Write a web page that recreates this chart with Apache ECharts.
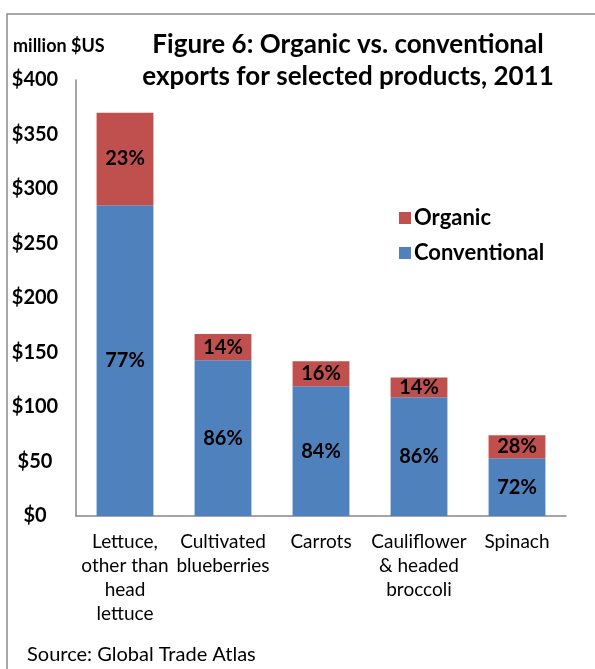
<!DOCTYPE html>
<html><head><meta charset="utf-8">
<script src="https://cdn.jsdelivr.net/npm/echarts@6/dist/echarts.min.js"></script>
<style>html,body{margin:0;padding:0;background:#fff}#c{width:595px;height:669px}</style>
</head><body><div id="c"></div>
<script>
const categories = ['Lettuce,\nother than\nhead\nlettuce', 'Cultivated\nblueberries', 'Carrots', 'Cauliflower\n& headed\nbroccoli', 'Spinach'];
const conventional = [285, 143, 119, 109, 53];
const organic = [85, 24, 23, 18, 21];
const yTicks = [0, 50, 100, 150, 200, 250, 300, 350, 400];

const FONT = 'Lato, "Open Sans", sans-serif';
const totals = conventional.map((v, i) => v + organic[i]);
const pct = (arr) => (p) => Math.round(arr[p.dataIndex] / totals[p.dataIndex] * 100) + '%';

const chart = echarts.init(document.getElementById('c'), null, {renderer: 'canvas'});
chart.setOption({
  animation: false,
  backgroundColor: '#fff',
  graphic: [
    {type: 'rect', shape: {x: 7, y: 14, width: 640, height: 700}, style: {fill: 'none', stroke: '#8c8c8c', lineWidth: 1.5}, silent: true},
    {type: 'text', left: 13, top: 37, style: {text: 'million $US', font: 'bold 18px ' + FONT, fill: '#000'}},
    {type: 'text', left: 27, top: 645, style: {text: 'Source: Global Trade Atlas', font: '20px ' + FONT, fill: '#000'}}
  ],
  title: {
    text: 'Figure 6: Organic vs. conventional\nexports for selected products, 2011',
    left: 343, top: 24, textAlign: 'center',
    textStyle: {fontFamily: FONT, fontWeight: 'bold', fontSize: 26, lineHeight: 32, color: '#000'}
  },
  legend: {
    orient: 'vertical', left: 394, top: 202, itemGap: 13,
    itemWidth: 12, itemHeight: 12, icon: 'rect',
    data: ['Organic', 'Conventional'],
    textStyle: {fontFamily: FONT, fontWeight: 'bold', fontSize: 22, lineHeight: 22, color: '#000', padding: [0, 0, 0, -2]}
  },
  grid: {left: 76, right: 29, top: 80, bottom: 153, containLabel: false},
  xAxis: {
    type: 'category', data: categories,
    axisLine: {lineStyle: {color: '#868686', width: 1.5}},
    axisTick: {show: false},
    axisLabel: {interval: 0, fontFamily: FONT, fontSize: 19, lineHeight: 24, color: '#000', margin: 14}
  },
  yAxis: {
    type: 'value', min: yTicks[0], max: yTicks[yTicks.length - 1], interval: 50,
    splitLine: {show: false},
    axisLine: {show: true, lineStyle: {color: '#868686', width: 1.5}},
    axisTick: {show: false},
    axisLabel: {fontFamily: FONT, fontWeight: 'bold', fontSize: 20, color: '#000', margin: 41, align: 'center', formatter: v => '$' + v}
  },
  series: [
    {name: 'Conventional', type: 'bar', stack: 't', data: conventional, barWidth: '58%',
     itemStyle: {color: '#4F81BD'},
     label: {show: true, position: 'inside', formatter: pct(conventional), fontFamily: FONT, fontWeight: 'bold', fontSize: 20, color: '#000'}},
    {name: 'Organic', type: 'bar', stack: 't', data: organic, barWidth: '58%',
     itemStyle: {color: '#C0504D'},
     label: {show: true, position: 'inside', formatter: pct(organic), fontFamily: FONT, fontWeight: 'bold', fontSize: 20, color: '#000'}}
  ]
});
</script></body></html>
